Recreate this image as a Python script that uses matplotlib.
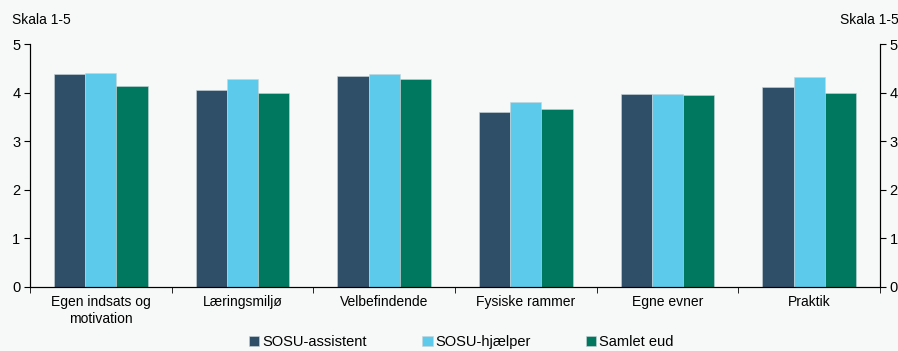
import numpy as np
import matplotlib
matplotlib.use("Agg")
import matplotlib.pyplot as plt

plt.rcParams['font.family'] = ['Liberation Sans', 'DejaVu Sans']

categories = ["Egen indsats og\nmotivation", "Læringsmiljø", "Velbefindende",
              "Fysiske rammer", "Egne evner", "Praktik"]
series_names = ["SOSU-assistent", "SOSU-hjælper", "Samlet eud"]
sosu_assistent = [4.38, 4.05, 4.34, 3.60, 3.97, 4.12]
sosu_hjaelper = [4.40, 4.28, 4.38, 3.81, 3.97, 4.32]
samlet_eud = [4.14, 3.99, 4.28, 3.66, 3.95, 3.99]
colours = ["#2e4f67", "#5ccbeb", "#00775f"]
bg = "#f7f9f9"

fig = plt.figure(figsize=(8.98, 3.51), dpi=100, facecolor=bg)
ax = fig.add_axes([30/898, 64/351, 850/898, 243/351])
ax.set_facecolor(bg)

x = np.arange(len(categories))
w = 0.22
for i, (vals, name) in enumerate(zip([sosu_assistent, sosu_hjaelper, samlet_eud], series_names)):
    ax.bar(x + (i - 1)*w, vals, w, color=colours[i], label=name,
           edgecolor="#c8d4d8", linewidth=0.4)

ax.set_xlim(-0.5, len(categories) - 0.5)
ax.set_ylim(0, 5)
ax.set_yticks(range(6))
ax.spines['top'].set_visible(False)
ax.spines['right'].set_visible(True)
ax.tick_params(axis='y', direction='out', length=4, labelsize=10.5, pad=3)
ax.set_xticks(x)
ax.set_xticklabels(categories, fontsize=10)
ax.tick_params(axis='x', length=0, pad=6)
ax.set_xticks(np.arange(len(categories) + 1) - 0.5, minor=True)
ax.tick_params(axis='x', which='minor', direction='out', length=4)

ax2 = ax.twinx()
ax2.set_ylim(0, 5)
ax2.set_yticks(range(6))
ax2.tick_params(axis='y', direction='out', length=4, labelsize=10.5, pad=3)
ax2.spines['top'].set_visible(False)

fig.text(12/898, 1 - 20/351, "Skala 1-5", fontsize=10, va='center', ha='left')
fig.text(840/898, 1 - 20/351, "Skala 1-5", fontsize=10, va='center', ha='left')

fig.legend(loc='center', bbox_to_anchor=(0.514, 1 - 342/351), ncol=3, frameon=False,
           fontsize=10.5, handlelength=0.7, handleheight=0.7, handletextpad=0.2,
           columnspacing=3.8, borderpad=0.1)

fig.savefig("out.png", dpi=100, facecolor=bg)
